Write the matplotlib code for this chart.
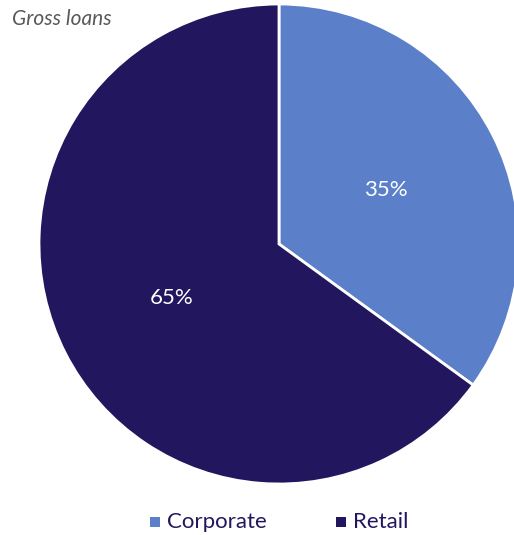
import matplotlib
matplotlib.use("Agg")
import matplotlib.pyplot as plt
from matplotlib.patches import Rectangle

categories = ["Corporate", "Retail"]
values = [35, 65]
colors = ["#5B7FC8", "#22175F"]
title = "Gross loans"

W, H = 514, 535
fig = plt.figure(figsize=(W / 100, H / 100), dpi=100)
ax = fig.add_axes([0, 0, 1, 1])
cx, cy, r = 279, 244, 240

wedges, texts, autotexts = ax.pie(
    values, colors=colors, startangle=90, counterclock=False,
    autopct="%d%%", pctdistance=0.5, radius=1,
    wedgeprops=dict(edgecolor="white", linewidth=2),
    textprops=dict(color="white", fontsize=16, family="Lato"),
)
ax.set_xlim(-cx / r, (W - cx) / r)
ax.set_ylim(-(H - cy) / r, cy / r)
ax.axis("off")

fig.text(12 / W, 1 - 19 / H, title, fontsize=15, style="italic", color="#595959",
         family="Lato", ha="left", va="center")

# legend drawn manually
legend_x = [150, 336]
sq = 10
ly = 522
for x0, c, lab in zip(legend_x, colors, categories):
    fig.patches.append(Rectangle((x0 / W, 1 - (ly + sq / 2) / H), sq / W, sq / H,
                                 transform=fig.transFigure, facecolor=c, edgecolor="none"))
    fig.text((x0 + sq + 7) / W, 1 - ly / H, lab, fontsize=16, color="#22175F",
             family="Lato", ha="left", va="center")

fig.savefig("out.png", dpi=100)
